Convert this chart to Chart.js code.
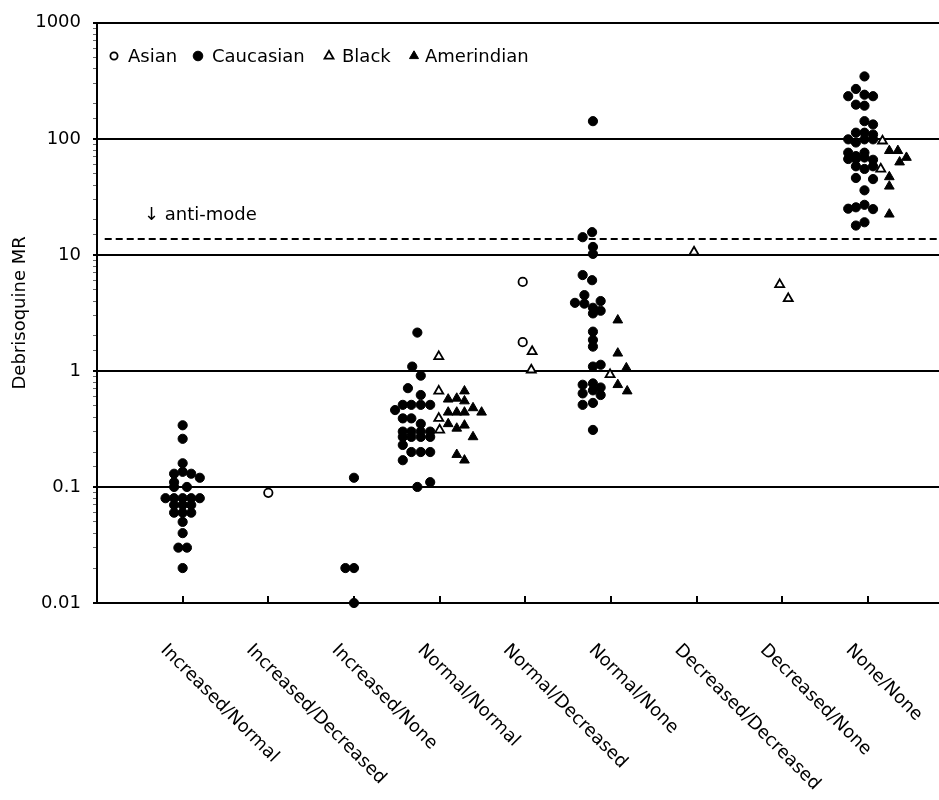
<!DOCTYPE html>
<html>
<head>
<meta charset="utf-8">
<script src="https://cdn.jsdelivr.net/npm/chart.js@4.4.0/dist/chart.umd.min.js"></script>
<style>
  html, body { margin: 0; padding: 0; background: #fff; }
  #wrap { width: 939px; height: 800px; }
</style>
</head>
<body>
<div id="wrap"><canvas id="chart" width="939" height="800"></canvas></div>
<script>
// ---------- data ----------
const categories = [
  'Increased/Normal', 'Increased/Decreased', 'Increased/None',
  'Normal/Normal', 'Normal/Decreased', 'Normal/None',
  'Decreased/Decreased', 'Decreased/None', 'None/None'
];
const seriesNames = ['Asian', 'Caucasian', 'Black', 'Amerindian'];
const yTicks = [0.01, 0.1, 1, 10, 100, 1000];
const antiMode = 13.7;
const antiModeLabel = '\u2193 anti-mode';
const yTitle = 'Debrisoquine MR';

// [category number + jitter, MR]
const asian = [
  [2.0, 0.089],
  [4.97, 5.85], [4.97, 1.77]
];

const caucasian = [
  // Increased/Normal
  [1, 0.34], [1, 0.26], [1, 0.16], [0.9, 0.13], [1, 0.135], [1.1, 0.13], [1.2, 0.12],
  [0.9, 0.11], [0.9, 0.1], [1.05, 0.1],
  [0.8, 0.08], [0.9, 0.08], [1, 0.08], [1.1, 0.08], [1.2, 0.08],
  [0.9, 0.07], [1, 0.07], [1.1, 0.07],
  [0.9, 0.06], [1, 0.06], [1.1, 0.06],
  [1, 0.05], [1, 0.04], [0.95, 0.03], [1.05, 0.03], [1, 0.02],
  // Increased/None
  [3, 0.12], [2.9, 0.02], [3, 0.02], [3, 0.01],
  // Normal/Normal
  [3.74, 2.14], [3.68, 1.09], [3.78, 0.91], [3.63, 0.71], [3.78, 0.62],
  [3.57, 0.51], [3.67, 0.51], [3.78, 0.51], [3.89, 0.51],
  [3.48, 0.46], [3.57, 0.39], [3.67, 0.39], [3.78, 0.35],
  [3.57, 0.30], [3.67, 0.30], [3.78, 0.30], [3.89, 0.30],
  [3.57, 0.27], [3.67, 0.27], [3.78, 0.27], [3.89, 0.27],
  [3.57, 0.23], [3.67, 0.20], [3.78, 0.20], [3.89, 0.20],
  [3.57, 0.17], [3.74, 0.10], [3.89, 0.11],
  // Normal/None
  [5.79, 142], [5.67, 14.2], [5.78, 15.7], [5.79, 11.7], [5.79, 10.2],
  [5.67, 6.7], [5.78, 6.05], [5.69, 4.5], [5.58, 3.86], [5.69, 3.8],
  [5.79, 3.5], [5.88, 4.0], [5.88, 3.3], [5.79, 3.13], [5.79, 2.18],
  [5.79, 1.85], [5.79, 1.62], [5.79, 1.09], [5.88, 1.13],
  [5.67, 0.76], [5.79, 0.78], [5.88, 0.72], [5.67, 0.64], [5.79, 0.68], [5.88, 0.62],
  [5.67, 0.51], [5.79, 0.53], [5.79, 0.31],
  // None/None
  [8.96, 345], [8.86, 269], [8.77, 233], [8.96, 240], [9.06, 233],
  [8.86, 197], [8.96, 193], [8.96, 142], [9.06, 133],
  [8.86, 113], [8.96, 113], [9.06, 109],
  [8.77, 99], [8.86, 93], [8.96, 99], [9.06, 99],
  [8.77, 76], [8.86, 71], [8.96, 76],
  [8.77, 67], [8.86, 67], [8.96, 69], [9.06, 66],
  [8.86, 58], [8.96, 55], [9.06, 58], [8.86, 46], [9.06, 45], [8.96, 36],
  [8.77, 25], [8.86, 25.7], [8.96, 27], [9.06, 24.8], [8.86, 17.9], [8.96, 19.1]
];

const black = [
  [3.99, 1.33], [3.99, 0.67], [3.99, 0.39], [4.0, 0.31],
  [5.08, 1.47], [5.07, 1.02],
  [5.99, 0.93],
  [6.97, 10.6],
  [7.97, 5.55], [8.07, 4.2],
  [9.17, 96], [9.15, 55]
];

const amerindian = [
  [4.29, 0.67], [4.10, 0.57], [4.20, 0.58], [4.29, 0.55], [4.39, 0.48], [4.49, 0.44],
  [4.10, 0.44], [4.20, 0.44], [4.29, 0.44], [4.10, 0.35], [4.20, 0.32], [4.29, 0.34],
  [4.39, 0.27], [4.20, 0.19], [4.29, 0.17],
  [6.08, 2.74], [6.08, 1.42], [6.18, 1.06], [6.08, 0.76], [6.19, 0.67],
  [9.25, 79], [9.35, 79], [9.45, 69], [9.37, 63], [9.25, 47], [9.25, 39], [9.25, 22.4]
];

// ---------- helpers ----------
const FONT = '"DejaVu Sans", "Liberation Sans", Arial, sans-serif';
const toXY = arr => arr.map(p => ({ x: p[0], y: p[1] }));
const isDecade = v => yTicks.some(t => Math.abs(t - v) / t < 1e-6);

const styles = {
  Asian:      { pointStyle: 'circle',   radius: 4.2, bg: '#fff', border: 1.8 },
  Caucasian:  { pointStyle: 'circle',   radius: 4.6, bg: '#000', border: 1 },
  Black:      { pointStyle: 'triangle', radius: 5.2, bg: '#fff', border: 1.8 },
  Amerindian: { pointStyle: 'triangle', radius: 5.6, bg: '#000', border: 1 }
};

function pointSet(name, arr) {
  const s = styles[name];
  return {
    label: name,
    data: toXY(arr),
    pointStyle: s.pointStyle,
    pointRadius: s.radius,
    pointBackgroundColor: s.bg,
    pointBorderColor: '#000',
    pointBorderWidth: s.border,
    showLine: false,
    clip: false
  };
}

// ---------- extra drawing: category labels, ticks, legend, anti-mode text ----------
const decorations = {
  id: 'decorations',
  afterDraw(chart) {
    const { ctx, chartArea, scales: { x, y } } = chart;
    ctx.save();

    // inward category ticks
    ctx.strokeStyle = '#000';
    ctx.lineWidth = 2;
    categories.forEach((c, i) => {
      const px = Math.round(x.getPixelForValue(i + 1));
      ctx.beginPath();
      ctx.moveTo(px, chartArea.bottom);
      ctx.lineTo(px, chartArea.bottom - 7);
      ctx.stroke();
    });

    // rotated category labels
    ctx.fillStyle = '#000';
    ctx.font = '18px ' + FONT;
    ctx.textAlign = 'left';
    ctx.textBaseline = 'top';
    categories.forEach((c, i) => {
      const px = x.getPixelForValue(i + 1);
      ctx.save();
      ctx.translate(px - 13, chartArea.bottom + 38);
      ctx.rotate(Math.PI / 4);
      ctx.fillText(c, 0, 0);
      ctx.restore();
    });

    // legend inside the plot
    const legendPos = [[114, 128], [198, 212], [329, 342], [414, 425]];
    const ly = 56;
    ctx.textBaseline = 'middle';
    seriesNames.forEach((name, i) => {
      const s = styles[name];
      ctx.fillStyle = s.bg;
      ctx.strokeStyle = '#000';
      ctx.lineWidth = s.border;
      const r = s.pointStyle === 'circle' ? (s.bg === '#fff' ? 3.6 : 4.8) : 5.2;
      Chart.helpers.drawPoint(ctx, { pointStyle: s.pointStyle, radius: r, borderWidth: s.border, rotation: 0 },
        legendPos[i][0], ly);
      ctx.fillStyle = '#000';
      ctx.fillText(name, legendPos[i][1], ly + 1);
    });

    // anti-mode label
    ctx.fillText(antiModeLabel, 144, y.getPixelForValue(antiMode) - 24);

    ctx.restore();
  }
};

// ---------- chart ----------
new Chart(document.getElementById('chart'), {
  type: 'scatter',
  data: {
    datasets: [
      pointSet('Caucasian', caucasian),
      pointSet('Amerindian', amerindian),
      pointSet('Black', black),
      pointSet('Asian', asian),
      {
        label: 'anti-mode',
        data: [{ x: 0.09, y: antiMode }, { x: 9.83, y: antiMode }],
        showLine: true,
        borderColor: '#000',
        borderWidth: 2,
        borderDash: [7, 4],
        pointRadius: 0,
        clip: false
      }
    ]
  },
  options: {
    responsive: false,
    animation: false,
    events: [],
    layout: { autoPadding: false, padding: { top: 19, left: 0, right: 0, bottom: 0 } },
    plugins: {
      legend: { display: false },
      tooltip: { enabled: false }
    },
    scales: {
      x: {
        type: 'linear',
        min: 0,
        max: 9.83,
        grid: { display: false },
        border: { display: true, color: '#000', width: 2 },
        ticks: { display: false },
        afterFit: s => { s.height = 197; }
      },
      y: {
        type: 'logarithmic',
        min: 0.01,
        max: 1000,
        border: { display: true, color: '#000', width: 2 },
        grid: {
          color: c => (c.tick && isDecade(c.tick.value)) ? '#000' : 'rgba(0,0,0,0)',
          tickColor: c => (c.tick && isDecade(c.tick.value)) ? '#000' : '#666',
          lineWidth: c => (c.tick && isDecade(c.tick.value)) ? 2 : 1,
          tickLength: 4
        },
        ticks: {
          autoSkip: false,
          padding: 12,
          color: '#000',
          font: { family: FONT, size: 18 },
          callback: v => isDecade(v) ? String(v) : ''
        },
        title: {
          display: true,
          text: yTitle,
          color: '#000',
          font: { family: FONT, size: 18 },
          padding: { top: 10, bottom: 0 }
        },
        afterFit: s => { s.width = 97; }
      }
    }
  },
  plugins: [decorations]
});
</script>
</body>
</html>
